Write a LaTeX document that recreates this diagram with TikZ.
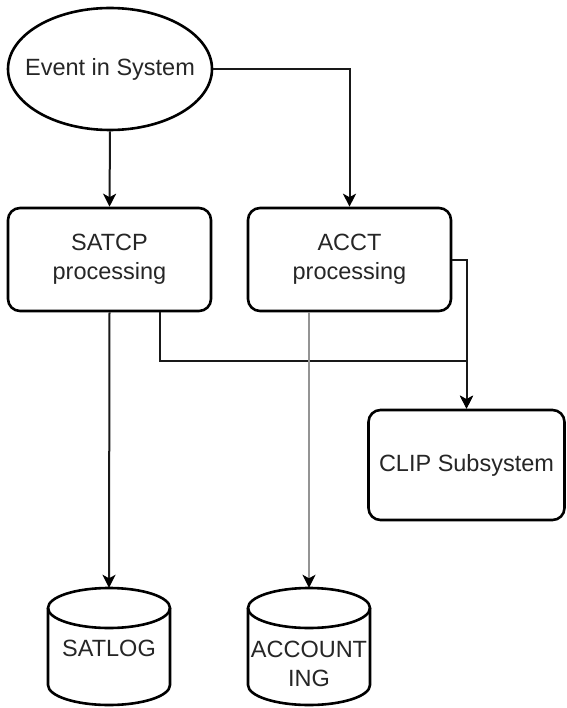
\documentclass[tikz,border=0pt]{standalone}
\usepackage{fontspec}
\setmainfont{Liberation Sans}
\usetikzlibrary{shapes.geometric,arrows.meta}
\begin{document}
\begin{tikzpicture}[x=1pt,y=-1pt,
  txt/.style={font=\fontsize{23.5}{29}\selectfont, text=black!85, align=center},
  startnode/.style={txt, ellipse, draw, line width=2.6pt, minimum width=204pt, minimum height=122pt, inner xsep=-20pt, inner ysep=0pt},
  procbox/.style={txt, draw, line width=2.6pt, rounded corners=12pt, minimum width=203pt, minimum height=103pt, inner sep=0pt},
  clipbox/.style={procbox, minimum width=196pt, minimum height=110pt},
  dbbody/.style={minimum width=122pt, minimum height=117pt, inner sep=0pt},
  dbline/.style={draw, line width=2.6pt},
  tip/.style={-{Stealth[length=13pt,width=13pt,inset=3.5pt,color=black]}},
  conn/.style={tip, line width=2pt, draw=black!90},
  grayconn/.style={tip, line width=2.6pt, draw=black!42},
]
\useasboundingbox (0,0) rectangle (566,708);
\fill[white] (0,0) rectangle (566,708);

% start event and processing boxes
\node[startnode] (event) at (110,69) {Event in System};
\node[procbox] (satcp) at (109.5,259.5) {SATCP\\processing};
\node[procbox] (acct) at (349.5,259.5) {ACCT\\processing};
\node[clipbox] (clip) at (466.5,465) {CLIP Subsystem};

% databases (cylinders)
\foreach \cx/\nm in {109/satlog, 309/acctdb} {
  \node[dbbody] (\nm) at (\cx,646.5) {};
  \draw[dbline] (\cx,608) ellipse[x radius=61pt, y radius=20pt];
  \draw[dbline] (\cx-61,608) -- (\cx-61,685)
    arc[start angle=180, end angle=360, x radius=61pt, y radius=20pt]
    -- (\cx+61,608);
}
\node[txt] (satlogtxt) at (109,648) {SATLOG};
\node[txt] (acctdbtxt) at (309,664) {ACCOUNT\\ING};

% connectors
\draw[conn] (event.south) -- (satcp.north);
\draw[conn] (event.east) -| (acct.north);
\draw[conn] (acct.east) -| (clip.north);
\draw[conn] ([xshift=50.5pt]satcp.south) -- ++(0,49) -| (clip.north);
\draw[conn] (satcp.south) -- (satlog.north);
\draw[grayconn] (acctdb.north |- acct.south) -- (acctdb.north);
\end{tikzpicture}
\end{document}
